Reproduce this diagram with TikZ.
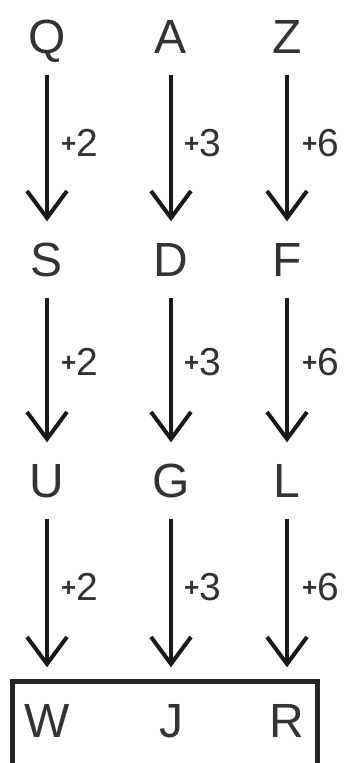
\documentclass[tikz,border=0pt]{standalone}
\usepackage{fontspec}
\setmainfont{Liberation Sans}
\usetikzlibrary{arrows.meta, positioning}
\tikzset{
    letter/.style = {inner sep=0pt, text height=35pt, text depth=0pt, font=\fontsize{48}{48}\selectfont, text=black!80},
    steplabel/.style = {inner sep=0pt, anchor=west, font=\fontsize{39}{39}\selectfont, text=black!80},
    step arrow/.style = {line width=4pt, black!90, -{Straight Barb[length=27pt,width=40pt]}, shorten <=21pt, shorten >=20pt}
}
\newcommand{\plusby}[1]{{\fontsize{26}{26}\selectfont\bfseries\raisebox{4pt}{+}}#1}

\begin{document}
\begin{tikzpicture}[x=1pt, y=-1pt]
    \useasboundingbox (0,0) rectangle (354,763);
    \clip (0,0) rectangle (354,763);

    % Letters, row by row
    \node (q) [letter] at (47,36) {Q};
    \node (a) [letter] at (171,36) {A};
    \node (z) [letter] at (287,36) {Z};

    \node (s) [letter] at (47,259) {S};
    \node (d) [letter] at (171,259) {D};
    \node (f) [letter] at (287,259) {F};

    \node (u) [letter] at (47,480) {U};
    \node (g) [letter] at (171,480) {G};
    \node (l) [letter] at (287,480) {L};

    \node (w) [letter] at (47,720) {W};
    \node (j) [letter] at (171,720) {J};
    \node (r) [letter] at (287,720) {R};

    % Result frame (bottom edge cut off)
    \node (frame) [draw=black!85, line width=5pt, minimum width=305pt, minimum height=140pt] at (164.5,751) {};

    % Arrows with step labels
    \draw [step arrow] (q) -- (s);
    \draw [step arrow] (a) -- (d);
    \draw [step arrow] (z) -- (f);
    \node (l1) [steplabel] at (61,143) {\plusby{2}};
    \node (l2) [steplabel] at (184,143) {\plusby{3}};
    \node (l3) [steplabel] at (302,143) {\plusby{6}};

    \draw [step arrow] (s) -- (u);
    \draw [step arrow] (d) -- (g);
    \draw [step arrow] (f) -- (l);
    \node (l4) [steplabel] at (61,362) {\plusby{2}};
    \node (l5) [steplabel] at (184,362) {\plusby{3}};
    \node (l6) [steplabel] at (302,362) {\plusby{6}};

    \draw [step arrow, shorten >=35pt] (u) -- (w);
    \draw [step arrow, shorten >=35pt] (g) -- (j);
    \draw [step arrow, shorten >=35pt] (l) -- (r);
    \node (l7) [steplabel] at (61,587) {\plusby{2}};
    \node (l8) [steplabel] at (184,587) {\plusby{3}};
    \node (l9) [steplabel] at (302,587) {\plusby{6}};
\end{tikzpicture}
\end{document}
